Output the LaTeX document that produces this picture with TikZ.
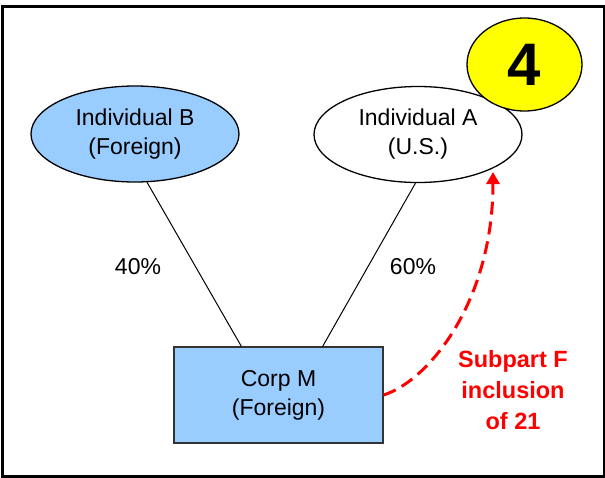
\documentclass[tikz,border=0pt]{standalone}
\usepackage{fontspec}
\setmainfont{Liberation Sans}
\usetikzlibrary{arrows.meta,shapes.geometric}
\definecolor{lblue}{HTML}{99CCFF}
\definecolor{sred}{HTML}{FF0000}
\definecolor{syel}{HTML}{FFFF00}
\begin{document}
\begin{tikzpicture}[x=1pt,y=-1pt,
  txt/.style={font=\fontsize{23}{29}\selectfont, align=center},
  person/.style={ellipse, draw, line width=1.3pt, minimum width=208pt, minimum height=96pt, inner sep=0pt, txt},
  corpbox/.style={draw=black!80, line width=1.3pt, fill=lblue, minimum width=209pt, minimum height=96pt, inner sep=0pt, txt},
  link/.style={line width=1pt},
  incl/.style={sred, line width=3pt, dash pattern=on 13pt off 7pt, -{Triangle[length=12pt,width=13pt]}}]
\useasboundingbox (0,0) rectangle (605,477);
\fill[white] (0,0) rectangle (605,477);
\draw[line width=3pt] (2.5,6.5) rectangle (604,476);
\node[person, fill=lblue] (B) at (135,134) {Individual B\\(Foreign)};
\node[person, fill=white] (A) at (418,134.5) {Individual A\\(U.S.)};
\node[ellipse, draw, line width=1.3pt, fill=syel, minimum width=115pt, minimum height=93pt, inner sep=0pt, font=\fontsize{60}{60}\selectfont\bfseries] (N) at (524.5,64.5) {4};
\node[corpbox] (M) at (278.5,395) {Corp M\\(Foreign)};
\node[txt] (p40) at (138,267) {40\%};
\node[txt] (p60) at (413,267) {60\%};
\node[txt, text=sred, font=\bfseries\fontsize{23.5}{31}\selectfont] (S) at (513,390) {Subpart F\\inclusion\\of 21};
\draw[link] (B.-76) -- ([xshift=68pt]M.north west);
\draw[link] (A.-93.5) -- ([xshift=-61pt]M.north east);
\coordinate (tip) at (493,172);
\draw[incl] (M.east) .. controls (430,380) and (493,300) .. (tip);
\end{tikzpicture}
\end{document}
